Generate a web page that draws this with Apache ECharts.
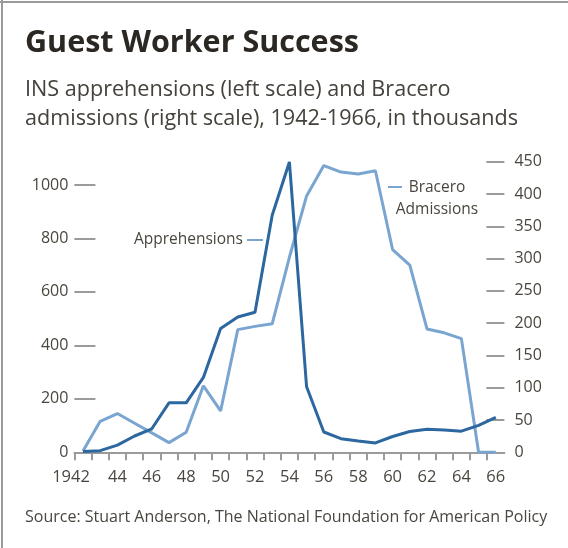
<!DOCTYPE html>
<html><head><meta charset="utf-8">
<script src="https://cdn.jsdelivr.net/npm/echarts@6/dist/echarts.min.js"></script>
<style>html,body{margin:0;padding:0;background:#fff}#c{width:568px;height:548px}</style>
</head><body><div id="c"></div>
<script>
const years = [1942,1943,1944,1945,1946,1947,1948,1949,1950,1951,1952,1953,1954,1955,1956,1957,1958,1959,1960,1961,1962,1963,1964,1965,1966];
const apprehensions = [3,6,27,61,88,185,185,280,463,506,524,887,1086,245,76,51,42,35,59,78,86,83,79,101,131];
const braceroAdmissions = [2,48,60,45,30,15,31,103,64,190,195,199,302,397,444,434,431,436,314,290,191,185,176,0,0];
const leftTicks = [0,200,400,600,800,1000];
const rightTicks = [0,50,100,150,200,250,300,350,400,450];
const xLabelYears = [1942,1944,1946,1948,1950,1952,1954,1956,1958,1960,1962,1964,1966];

const FONT = '"Open Sans", "DejaVu Sans", sans-serif';
const TXT = '#4a463f';
const AXIS = '#9b9b9b';
const DARK = '#2d67a0';
const LIGHT = '#79a5d0';

const chart = echarts.init(document.getElementById('c'), null, {renderer: 'canvas'});
const option = {
  animation: false,
  backgroundColor: '#fff',
  grid: {left: 74.4, right: 63.6, top: 161.7, bottom: 95.7},
  xAxis: {
    type: 'value', min: 1941.5, max: 1966.5,
    axisLine: {show: true, lineStyle: {color: AXIS, width: 2}},
    splitLine: {show: false},
    axisTick: {show: true, length: 8, lineStyle: {color: AXIS, width: 2}, customValues: years.map(y => y - 0.5)},
    axisLabel: {
      customValues: xLabelYears, margin: 16, color: TXT, fontSize: 16.5, fontFamily: FONT,
      formatter: v => v === 1942 ? '{f|1942}' : String(v).slice(2),
      rich: {f: {padding: [0, 24, 0, 0], color: TXT, fontSize: 16.5, fontFamily: FONT}}
    }
  },
  yAxis: [
    {
      type: 'value', min: 0, max: 1087, position: 'left',
      axisLine: {show: false}, splitLine: {show: false},
      axisTick: {show: true, inside: true, length: 21, lineStyle: {color: AXIS, width: 2}, customValues: leftTicks},
      axisLabel: {customValues: leftTicks, margin: 6, color: TXT, fontSize: 16, fontFamily: FONT, formatter: v => String(v)}
    },
    {
      type: 'value', min: 0, max: 450, position: 'right',
      axisLine: {show: false}, splitLine: {show: false},
      axisTick: {show: true, inside: true, length: 18, lineStyle: {color: AXIS, width: 2}, customValues: rightTicks},
      axisLabel: {customValues: rightTicks, margin: 10, color: TXT, fontSize: 16, fontFamily: FONT, formatter: v => String(v)}
    }
  ],
  series: [
    {
      name: 'Bracero Admissions', type: 'line', yAxisIndex: 1, symbol: 'none',
      data: years.map((y, i) => [y, braceroAdmissions[i]]),
      lineStyle: {color: LIGHT, width: 3}, z: 2
    },
    {
      name: 'Apprehensions', type: 'line', yAxisIndex: 0, symbol: 'none',
      data: years.map((y, i) => [y, apprehensions[i]]),
      lineStyle: {color: DARK, width: 3}, z: 3
    }
  ],
  graphic: [
    {type: 'line', shape: {x1: 2, y1: 0, x2: 2, y2: 548}, style: {stroke: '#9a9a9a', lineWidth: 2}},
    {type: 'line', shape: {x1: 0, y1: 2, x2: 568, y2: 2}, style: {stroke: '#9a9a9a', lineWidth: 2}},
    {type: 'text', x: 25, y: 43, style: {text: 'Guest Worker Success', fill: '#2b2722', font: 'bold 30.5px ' + FONT, verticalAlign: 'middle', align: 'left'}},
    {type: 'text', x: 25, y: 90, style: {text: 'INS apprehensions (left scale) and Bracero', fill: '#45413b', font: '21.6px ' + FONT, verticalAlign: 'middle', align: 'left'}},
    {type: 'text', x: 25, y: 119, style: {text: 'admissions (right scale), 1942-1966, in thousands', fill: '#45413b', font: '21.6px ' + FONT, verticalAlign: 'middle', align: 'left'}},
    {type: 'text', x: 243, y: 240, style: {text: 'Apprehensions', fill: TXT, font: '15.5px ' + FONT, verticalAlign: 'middle', align: 'right'}},
    {type: 'line', shape: {x1: 247, y1: 240, x2: 263, y2: 240}, style: {stroke: LIGHT, lineWidth: 2}},
    {type: 'text', x: 437, y: 199, style: {text: 'Bracero\nAdmissions', fill: TXT, font: '15.5px ' + FONT, lineHeight: 22, verticalAlign: 'middle', align: 'center'}},
    {type: 'line', shape: {x1: 388, y1: 187, x2: 402, y2: 187}, style: {stroke: LIGHT, lineWidth: 2}},
    {type: 'text', x: 25, y: 517, style: {text: 'Source: Stuart Anderson, The National Foundation for American Policy', fill: TXT, font: '16px ' + FONT, verticalAlign: 'middle', align: 'left'}}
  ]
};
chart.setOption(option);
</script>
</body></html>
